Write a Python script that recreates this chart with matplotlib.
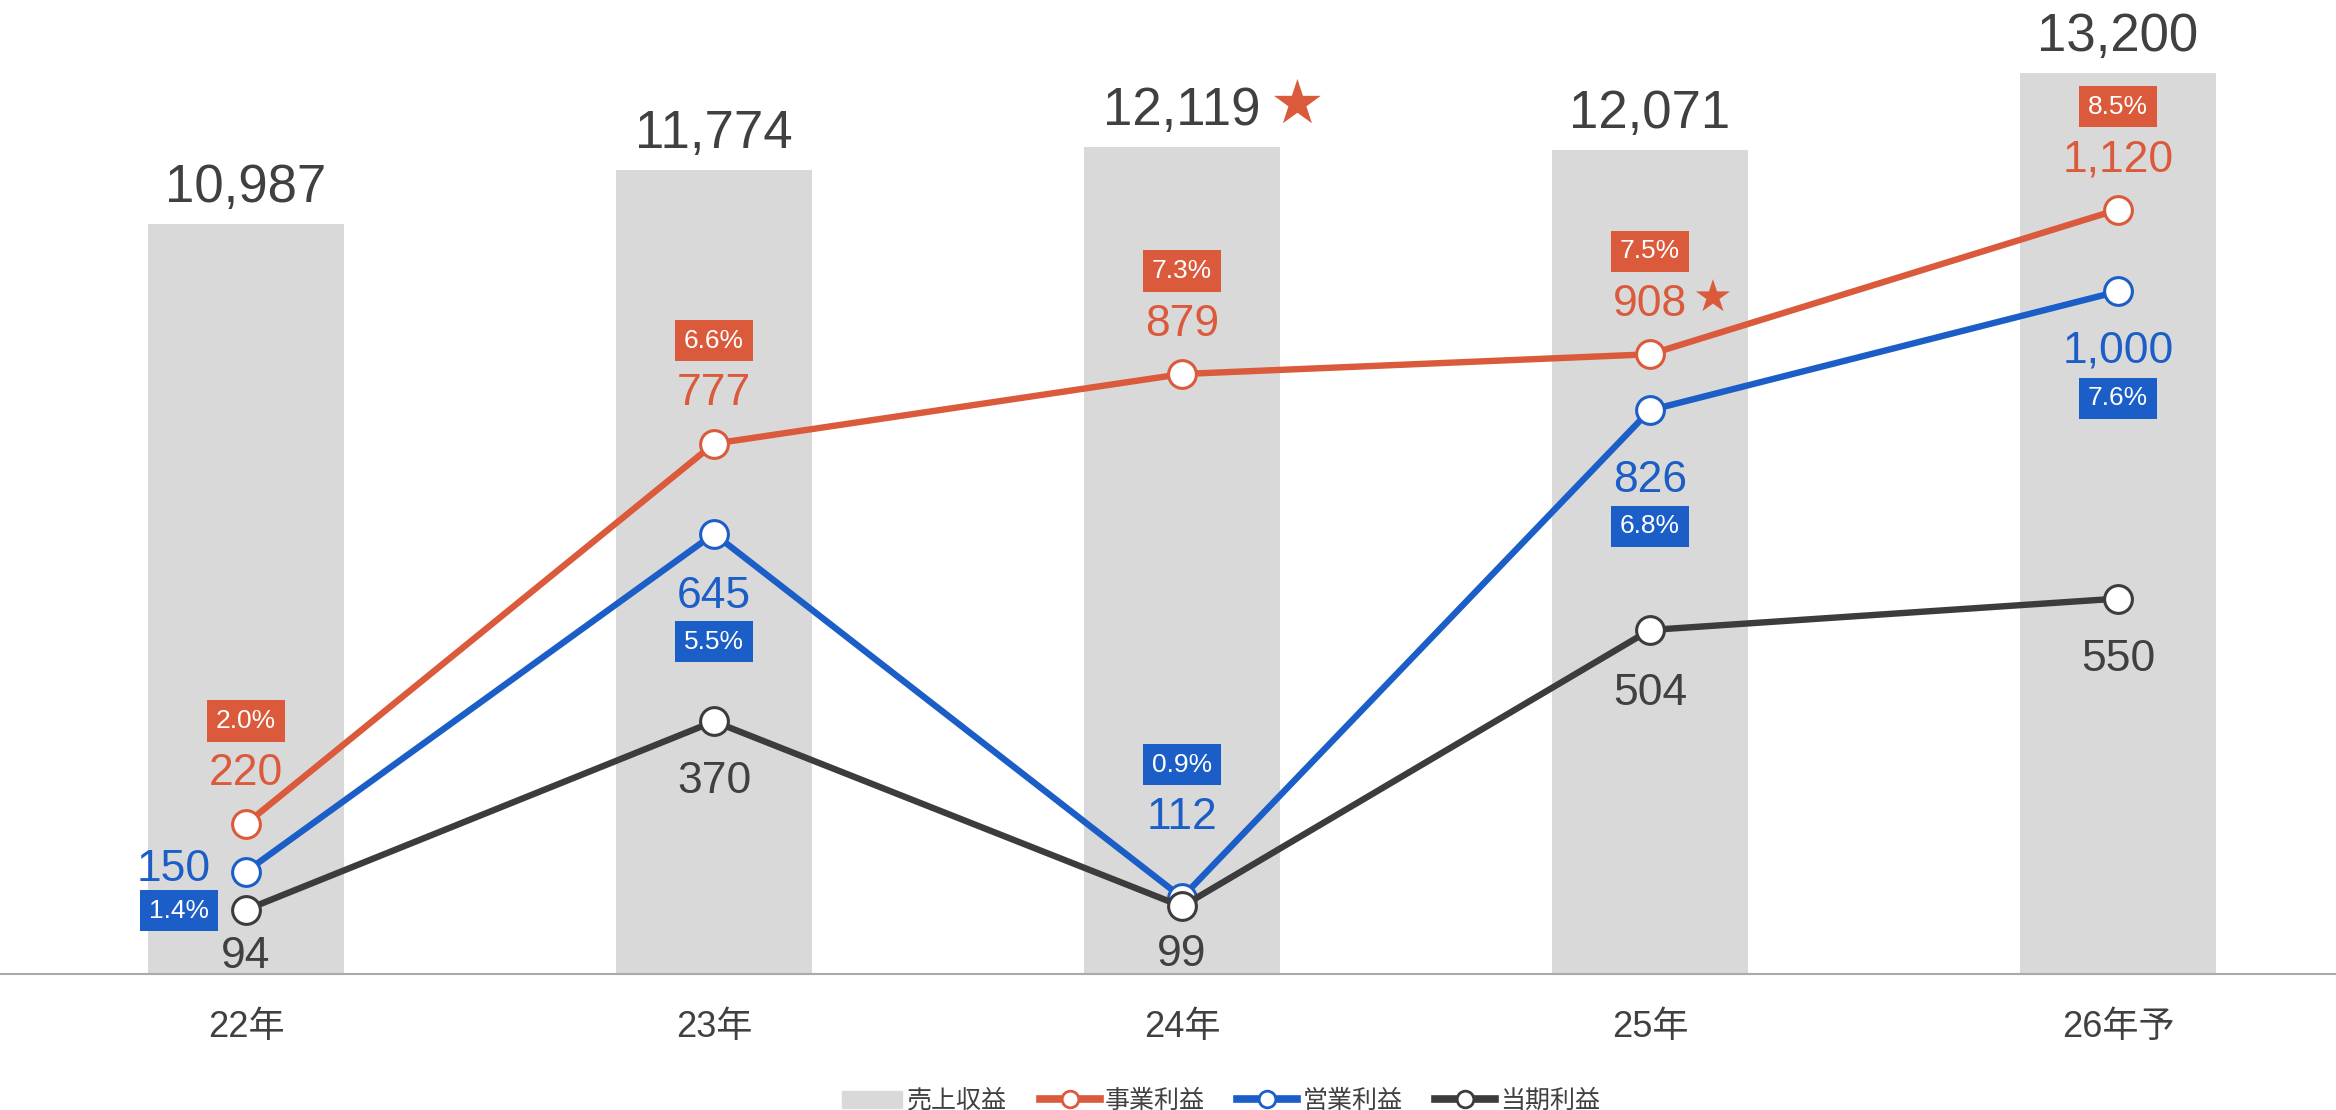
import matplotlib.pyplot as plt
from matplotlib.patches import Patch
from matplotlib.lines import Line2D

plt.rcParams['font.family'] = ['Liberation Sans', 'Noto Sans CJK JP', 'DejaVu Sans']

# data
years = ['22年', '23年', '24年', '25年', '26年予']
revenue = [10987, 11774, 12119, 12071, 13200]
biz_profit = [220, 777, 879, 908, 1120]
op_profit = [150, 645, 112, 826, 1000]
net_profit = [94, 370, 99, 504, 550]
biz_margin = [2.0, 6.6, 7.3, 7.5, 8.5]
op_margin = [1.4, 5.5, 0.9, 6.8, 7.6]
revenue_star = [False, False, True, False, False]
biz_star = [False, False, False, True, False]

ORANGE = '#DB5A3C'
BLUE = '#1B5EC8'
BLACK = '#3C3C3C'
BAR = '#D9D9D9'
TEXT = '#404040'

PX = 0.72  # px -> pt at dpi 100

fig = plt.figure(figsize=(23.36, 11.1), dpi=100)
ax = fig.add_axes([0, 1 - 974 / 1110, 1, 974 / 1110])
x = list(range(len(years)))

ax.bar(x, revenue, width=0.4167, color=BAR, zorder=1)
ax.set_xlim(-246 / 468, (2336 - 246) / 468)
ax.set_ylim(0, 14270)
for s in ['top', 'right', 'left']:
    ax.spines[s].set_visible(False)
ax.spines['bottom'].set_color('#AAAAAA')
ax.spines['bottom'].set_linewidth(1.5)
ax.set_yticks([])
ax.set_xticks(x)
ax.set_xticklabels(years, fontsize=26, color=TEXT)
ax.tick_params(axis='x', length=0, pad=26)

for i, v in enumerate(revenue):
    ax.annotate(f'{v:,}', (i, v), xytext=(0, 36 * PX), textcoords='offset points',
                ha='center', va='center', fontsize=38, color=TEXT)
    if revenue_star[i]:
        ax.annotate('★', (i, v), xytext=(114 * PX, 41 * PX), textcoords='offset points',
                    ha='center', va='center', fontsize=44, color=ORANGE,
                    family='DejaVu Sans')

ax2 = ax.twinx()
ax2.set_ylim(0, 1427)
ax2.axis('off')

line_kw = dict(lw=4.6, marker='o', ms=20, mfc='white', mew=2.2, solid_joinstyle='round')
ax2.plot(x, biz_profit, color=ORANGE, zorder=3, **line_kw)
ax2.plot(x, op_profit, color=BLUE, zorder=4, **line_kw)
ax2.plot(x, net_profit, color=BLACK, zorder=5, **line_kw)


def pct_box(i, v, m, color, dx, dy, ha='center'):
    ax2.annotate(f'{m:.1f}%', (i, v), xytext=(dx * PX, dy * PX), textcoords='offset points',
                 ha=ha, va='center', fontsize=19, color='white', zorder=10,
                 bbox=dict(boxstyle='square,pad=0.33', fc=color, ec='none'))


# 事業利益 labels
for i, v in enumerate(biz_profit):
    ax2.annotate(f'{v:,}', (i, v), xytext=(0, 50 * PX), textcoords='offset points',
                 ha='center', va='center', fontsize=32, color=ORANGE, zorder=10)
    pct_box(i, v, biz_margin[i], ORANGE, 0, 103)
    if biz_star[i]:
        ax2.annotate('★', (i, v), xytext=(62 * PX, 55 * PX), textcoords='offset points',
                     ha='center', va='center', fontsize=32, color=ORANGE,
                     family='DejaVu Sans', zorder=10)

# 営業利益 labels
op_lab = [(-35, 2, 'right'), (0, -63, 'center'), (0, 80, 'center'), (0, -70, 'center'), (0, -60, 'center')]
op_box = [(-37, -39, 'right'), (0, -108, 'center'), (0, 133, 'center'), (0, -116, 'center'), (0, -107, 'center')]
for i, v in enumerate(op_profit):
    dx, dy, ha = op_lab[i]
    ax2.annotate(f'{v:,}', (i, v), xytext=(dx * PX, dy * PX), textcoords='offset points',
                 ha=ha, va='center', fontsize=32, color=BLUE, zorder=10)
    dx, dy, ha = op_box[i]
    pct_box(i, v, op_margin[i], BLUE, dx, dy, ha)

# 当期利益 labels
net_dy = [-47, -60, -48, -64, -61]
for i, v in enumerate(net_profit):
    ax2.annotate(f'{v:,}', (i, v), xytext=(0, net_dy[i] * PX), textcoords='offset points',
                 ha='center', va='center', fontsize=32, color=TEXT, zorder=10)

handles = [
    Patch(color=BAR, label='売上収益'),
    Line2D([], [], color=ORANGE, lw=5.5, marker='o', ms=12, mfc='white', mew=2, label='事業利益'),
    Line2D([], [], color=BLUE, lw=5.5, marker='o', ms=12, mfc='white', mew=2, label='営業利益'),
    Line2D([], [], color=BLACK, lw=5.5, marker='o', ms=12, mfc='white', mew=2, label='当期利益'),
]
leg = fig.legend(handles=handles, loc='center', bbox_to_anchor=(1221 / 2336, 1 - 1101 / 1110),
                 ncol=4, frameon=False, fontsize=18, handlelength=2.4, handletextpad=0.2,
                 columnspacing=1.3)
for t in leg.get_texts():
    t.set_color(TEXT)

fig.savefig('out.png', dpi=100)
